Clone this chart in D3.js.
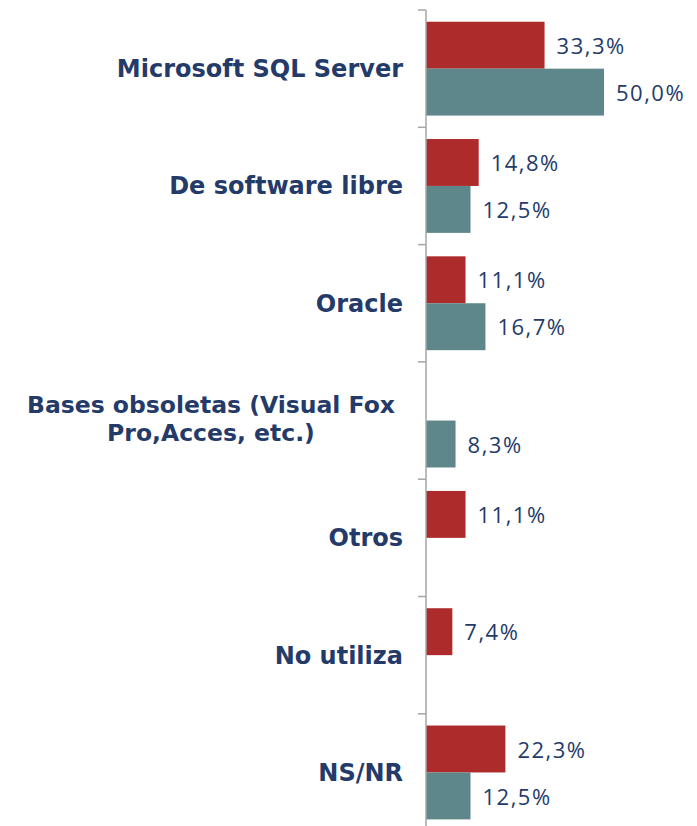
<!DOCTYPE html>
<html><head><meta charset="utf-8">
<script src="https://cdn.jsdelivr.net/npm/d3@7"></script>
<style>
html,body{margin:0;padding:0;background:#fff;}
svg{display:block;}
</style></head>
<body>
<svg id="chart" width="697" height="826"></svg>
<script>
const categories = [
  "Microsoft SQL Server",
  "De software libre",
  "Oracle",
  "Bases obsoletas (Visual Fox\nPro,Acces, etc.)",
  "Otros",
  "No utiliza",
  "NS/NR"
];
const seriesNames = ["Serie 1", "Serie 2"];
const redValues  = [33.3, 14.8, 11.1, null, 11.1, 7.4, 22.3];
const tealValues = [50.0, 12.5, 16.7, 8.3, null, null, 12.5];
const colors = ["#ae2b2c", "#5d878b"];
const textColor = "#243b6a";

(function () {
const svg = d3.select("#chart");
const axisX = 426;
const plotTop = 10, plotEnd = 831.1;

const x = d3.scaleLinear().domain([0, 50]).range([axisX, axisX + 178]);
const y = d3.scaleBand().domain(categories).range([plotTop, plotEnd]).paddingInner(0.2).paddingOuter(0.1);
const ySub = d3.scaleBand().domain(seriesNames).range([0, y.bandwidth()]);
const step = y.step();

const data = [];
categories.forEach((c, i) => {
  [redValues, tealValues].forEach((arr, s) => {
    if (arr[i] != null) data.push({cat: c, series: seriesNames[s], value: arr[i], s});
  });
});

// bars
svg.append("g").selectAll("rect").data(data).join("rect")
  .attr("x", x(0))
  .attr("y", d => y(d.cat) + ySub(d.series))
  .attr("width", d => x(d.value) - x(0))
  .attr("height", ySub.bandwidth())
  .attr("fill", d => colors[d.s]);

// value labels
const fmt = v => d3.format(".1f")(v).replace(".", ",") + "%";
svg.append("g").selectAll("text").data(data).join("text")
  .attr("x", d => x(d.value) + 12)
  .attr("y", d => y(d.cat) + ySub(d.series) + ySub.bandwidth() / 2 + 1)
  .attr("dy", "0.35em")
  .attr("fill", textColor)
  .style("font-family", "'Open Sans', sans-serif")
  .style("font-size", "22px")
  .style("letter-spacing", "1.5px")
  .text(d => fmt(d.value));

// axis line and ticks
const axisG = svg.append("g");
axisG.append("line")
  .attr("x1", axisX).attr("x2", axisX)
  .attr("y1", plotTop).attr("y2", 826)
  .attr("stroke", "#a6a6a6").attr("stroke-width", 1.5);
const tickYs = categories.map(c => y(c) - step * 0.1);
axisG.selectAll(".tick").data(tickYs).join("line")
  .attr("x1", axisX - 8).attr("x2", axisX)
  .attr("y1", d => d).attr("y2", d => d)
  .attr("stroke", "#a6a6a6").attr("stroke-width", 1.5);

// category labels
const labelRight = 403;
const catG = svg.append("g");
categories.forEach(c => {
  const lines = c.split("\n");
  const multi = lines.length > 1;
  const cy = y(c) + y.bandwidth() / 2;
  const lh = 28;
  const t = catG.append("text")
    .attr("fill", textColor)
    .style("font-family", "'DejaVu Sans', sans-serif")
    .style("font-weight", "bold")
    .style("font-size", multi ? "23.5px" : "24px");
  lines.forEach((ln, k) => {
    t.append("tspan")
      .attr("y", cy - (multi ? 1.5 : 0) + (k - (lines.length - 1) / 2) * lh)
      .attr("dy", "0.35em")
      .text(ln);
  });
  const tspans = t.selectAll("tspan").nodes();
  const maxW = d3.max(tspans, n => n.getComputedTextLength());
  if (multi) {
    t.attr("text-anchor", "middle");
    t.selectAll("tspan").attr("x", labelRight - 8 - maxW / 2);
  } else {
    t.attr("text-anchor", "end");
    t.selectAll("tspan").attr("x", labelRight);
  }
});
})();
</script>
</body></html>
